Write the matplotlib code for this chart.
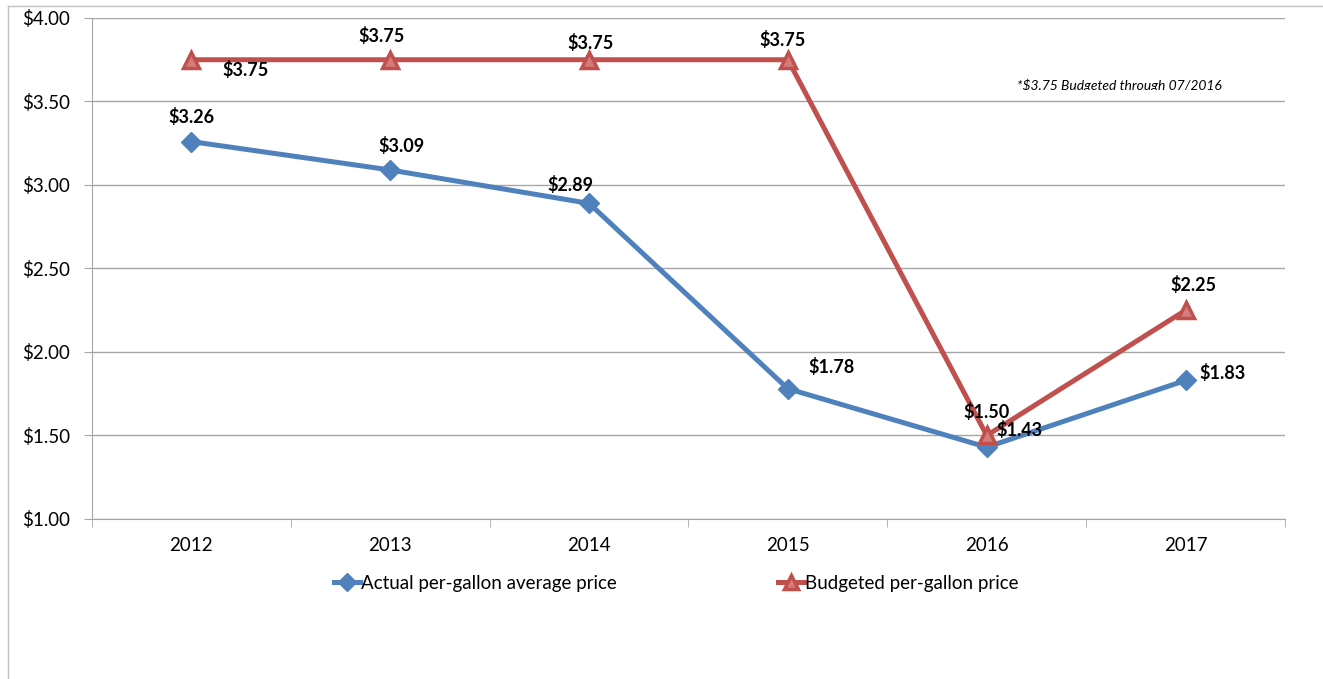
import matplotlib.pyplot as plt
from matplotlib.lines import Line2D
from matplotlib.transforms import Bbox
from matplotlib.ticker import FixedLocator

years = ['2012', '2013', '2014', '2015', '2016', '2017']
actual = [3.26, 3.09, 2.89, 1.78, 1.43, 1.83]
budget = [3.75, 3.75, 3.75, 3.75, 1.50, 2.25]
yticks = [1.00, 1.50, 2.00, 2.50, 3.00, 3.50, 4.00]

# label offsets in pixels (dx, dy)
act_off = [(0, 25), (11, 24), (-19, 18), (44, 22), (33, 17), (37, 7)]
bud_off = [(54, -10), (-9, 24), (1, 17), (-5, 20), (0, 23), (8, 25)]

plt.rcParams['font.family'] = ['Lato', 'DejaVu Sans']

blue = '#4F81BD'
red = '#C0504D'
grey = '#A6A6A6'

fig = plt.figure(figsize=(13.23, 6.79), dpi=100)
ax = fig.add_axes([92/1323, 1-519/679, 1193/1323, 501/679])

x = list(range(len(years)))
ax.plot(x, actual, color=blue, lw=3.6, marker='D', ms=10, mfc=blue, mec=blue,
        label='Actual per-gallon average price', zorder=3)
ax.plot(x, budget, color=red, lw=3.6, marker='^', ms=11, mfc='#D47C7A', mec=red, mew=2.5,
        label='Budgeted per-gallon price', zorder=4)

for i, v in enumerate(actual):
    ax.annotate('$%.2f' % v, (i, v), xytext=act_off[i], textcoords='offset pixels',
                ha='center', va='center', fontsize=13, fontweight='bold', zorder=5)
for i, v in enumerate(budget):
    ax.annotate('$%.2f' % v, (i, v), xytext=bud_off[i], textcoords='offset pixels',
                ha='center', va='center', fontsize=13, fontweight='bold', zorder=5)

ax.set_xlim(-0.5, 5.5)
ax.set_ylim(1, 4)
ax.set_xticks(x)
ax.set_xticklabels(years, fontsize=13.5)
ax.xaxis.set_minor_locator(FixedLocator([i + 0.5 for i in range(-1, 6)]))
ax.tick_params(axis='x', which='major', length=0, pad=13)
ax.tick_params(axis='x', which='minor', length=6, color=grey, direction='out')
ax.set_yticks(yticks)
ax.set_yticklabels(['$%.2f' % t for t in yticks], fontsize=13.5)
ax.tick_params(axis='y', length=6, color=grey, pad=10)
ax.grid(axis='y', color=grey, lw=1)
for s in ['top', 'right']:
    ax.spines[s].set_visible(False)
for s in ['left', 'bottom']:
    ax.spines[s].set_color(grey)

note = fig.text(1017/1323, 1-85/679, '*$3.75 Budgeted through 07/2016', fontsize=10,
                style='italic', va='center', ha='left')
note.set_clip_box(Bbox.from_extents(1000, 679-90, 1260, 679-60))
note.set_clip_on(True)

fig.legend(loc='center', bbox_to_anchor=(0.511, 1-583/679), ncol=2, frameon=False,
           fontsize=13.5, columnspacing=8.6, handlelength=1.4, handletextpad=0.05, markerscale=0.9)

fig.add_artist(Line2D([8/1323, 8/1323], [0, 1-6/679], color='#BFBFBF', lw=1))
fig.add_artist(Line2D([8/1323, 1], [1-6/679, 1-6/679], color='#BFBFBF', lw=1))

fig.savefig('out.png', dpi=100)
